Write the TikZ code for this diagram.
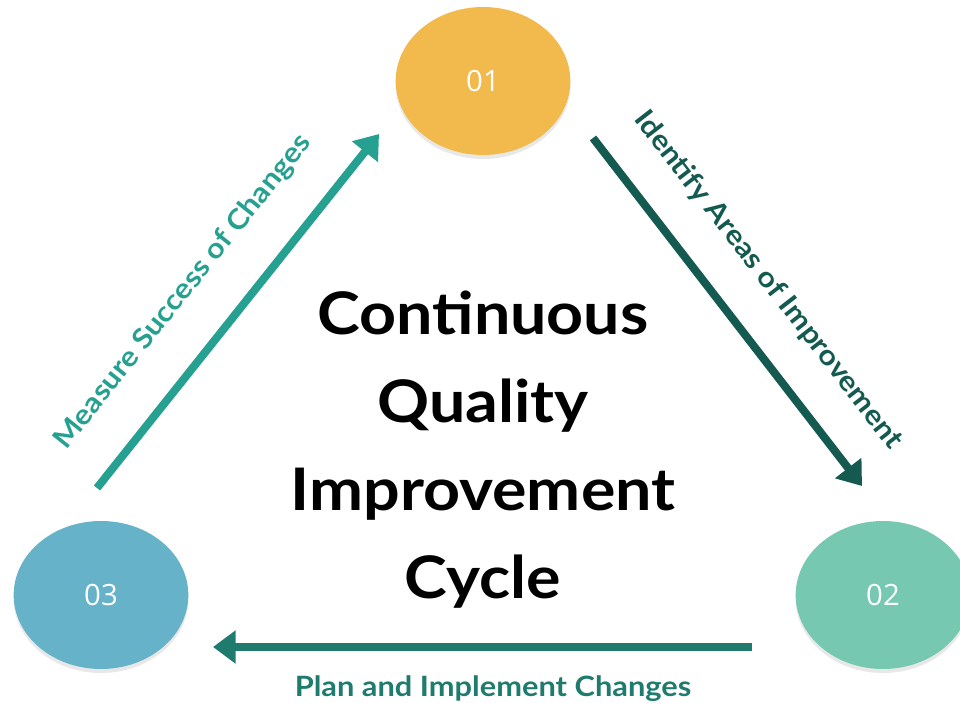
\documentclass[tikz,border=0pt]{standalone}
\usepackage{fontspec}
\setmainfont{Lato}
\newfontfamily\numfont{Open Sans}
\usetikzlibrary{arrows.meta,shadows,shapes.geometric}
\definecolor{cyel}{HTML}{F2BA4C}
\definecolor{cgreen}{HTML}{76C8B0}
\definecolor{cblue}{HTML}{66B2C8}
\definecolor{cteal}{HTML}{26A090}
\definecolor{cdark}{HTML}{155A50}
\definecolor{cmid}{HTML}{1E7B6E}
\newcommand{\wide}[1]{\scalebox{1.1}[1]{#1}}
\begin{document}
\begin{tikzpicture}[x=0.75pt,y=-0.75pt,
  stage/.style={ellipse, inner sep=0pt, minimum width=131pt, minimum height=111pt,
    text=white, font=\numfont\fontsize{22}{26}\selectfont,
    drop shadow={opacity=0.18, shadow xshift=0pt, shadow yshift=-3pt}},
  flow/.style={line width=6pt, -{Triangle[length=17pt,width=24pt]}},
  lab/.style={font=\bfseries\fontsize{21}{25}\selectfont, inner sep=0pt}]
\useasboundingbox (0,0) rectangle (960,703);
\clip (0,0) rectangle (960,703);
\node[stage, fill=cyel]   (n1) at (483,81)  {01};
\node[stage, fill=cgreen] (n2) at (883,595) {02};
\node[stage, fill=cblue]  (n3) at (101,595) {03};
\coordinate (a1s) at (593,138);
\coordinate (a1e) at (862,486);
\coordinate (a2s) at (752,647);
\coordinate (a2e) at (213,647);
\coordinate (a3s) at (97,488);
\coordinate (a3e) at (379,134);
\draw[flow, cdark] (a1s) -- (a1e);
\draw[flow, cmid]  (a2s) -- (a2e);
\draw[flow, cteal] (a3s) -- (a3e);
\node[lab, text=cdark, rotate=-52.2] (l1) at (768,280) {\wide{Identify Areas of Improvement}};
\node[lab, text=cmid] (l2) at (493,689) {\wide{Plan and Implement Changes}};
\node[lab, text=cteal, rotate=51.3] (l3) at (183,292) {\wide{Measure Success of Changes}};
\node[align=center, font=\bfseries\fontsize{44}{66}\selectfont, inner sep=0pt] (title) at (483,450)
  {\wide{Continuous}\\\wide{Quality}\\\wide{Improvement}\\\wide{Cycle}};
\end{tikzpicture}
\end{document}
